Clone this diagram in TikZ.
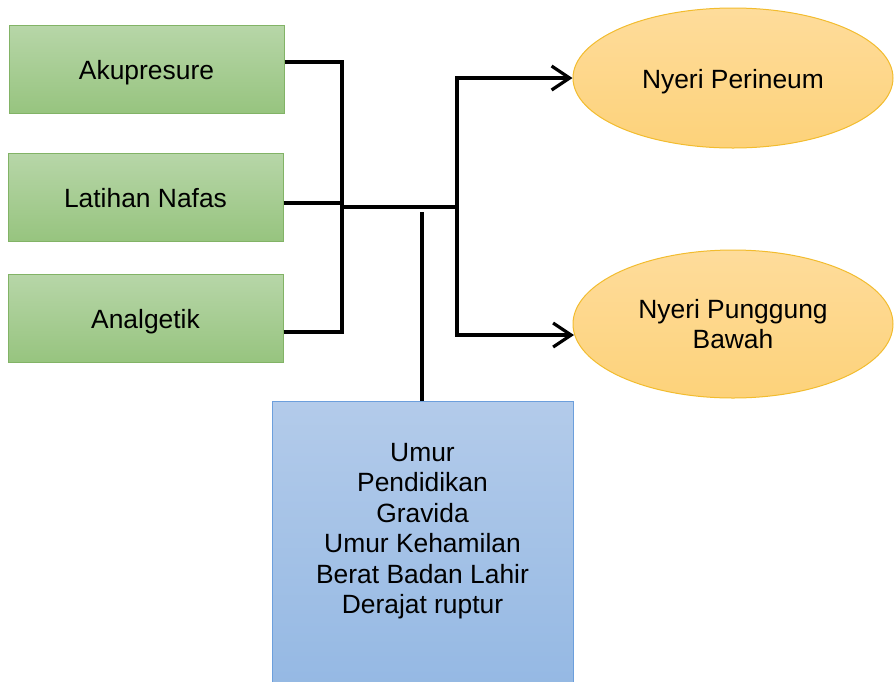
\documentclass[tikz,border=0pt]{standalone}
\usepackage{fontspec}
\setmainfont{Liberation Sans}
\usetikzlibrary{shapes.geometric,arrows.meta,shadings}
\definecolor{gtop}{HTML}{B7D6A8}
\definecolor{gbot}{HTML}{97C47F}
\definecolor{gline}{HTML}{82B366}
\definecolor{otop}{HTML}{FEDC9B}
\definecolor{obot}{HTML}{FDD27A}
\definecolor{oline}{HTML}{F2BC2E}
\definecolor{btop}{HTML}{B3CBEA}
\definecolor{bbot}{HTML}{8FB5E2}
\definecolor{bline}{HTML}{6C9FDC}
\tikzset{
  txtfont/.style={font=\fontsize{26.4}{30.5}\selectfont},
  greenbox/.style={rectangle, draw=gline, line width=1pt, top color=gtop, bottom color=gbot,
    minimum width=275pt, minimum height=88pt, inner sep=0pt, txtfont,
    text height=20.6pt, text depth=0pt},
  oval/.style={ellipse, draw=oline, line width=1pt, top color=otop, bottom color=obot,
    minimum width=320pt, inner sep=0pt, align=center, txtfont},
  bluebox/.style={rectangle, draw=bline, line width=1pt, top color=btop, bottom color=bbot,
    minimum width=301pt, minimum height=340pt, inner sep=0pt},
  wire/.style={line width=3.2pt, black},
  arr/.style={wire, -{Straight Barb[length=18pt,width=24pt,line width=3.2pt]}},
}
\begin{document}
\begin{tikzpicture}[x=1pt,y=1pt]
\useasboundingbox (0,0) rectangle (894,-681);
\node[greenbox] (a1) at (146.5,-69) {Akupresure};
\node[greenbox] (a2) at (145.5,-197) {Latihan Nafas};
\node[greenbox] (a3) at (145.5,-318) {Analgetik};
\node[oval, minimum height=140pt, text height=20pt, text depth=0pt] (e1) at (733,-78) {Nyeri Perineum};
\node[oval, minimum height=148pt] (e2) at (733,-324) {Nyeri Punggung\\Bawah};
\node[bluebox] (f) at (422.5,-571) {};
\node[txtfont, align=center] (ft) at (422.5,-531) {Umur\\Pendidikan\\Gravida\\Umur Kehamilan\\Berat Badan Lahir\\Derajat ruptur};
\coordinate (bt) at (342,-62);
\coordinate (bm) at (342,-203);
\coordinate (bb) at (342,-332);
\coordinate (jn) at (342,-207);
\coordinate (sp) at (457,-207);
\coordinate (st) at (457,-78);
\coordinate (sb) at (457,-335);
\coordinate (ft0) at (422,-212);
\draw[wire] ([yshift=7pt]a1.east) -- (bt);
\draw[wire] ([yshift=-6pt]a2.east) -- (bm);
\draw[wire] ([yshift=-14pt]a3.east) -- (bb);
\draw[wire] ([yshift=1.6pt]bt) -- ([yshift=-1.6pt]bb);
\draw[wire] (jn) -- (sp);
\draw[wire] ([yshift=1.6pt]st) -- ([yshift=-1.6pt]sb);
\draw[arr] (st) -- (e1.west);
\draw[arr] (sb) -- (574,-335);
\draw[wire] (ft0) -- (f.north -| ft0);
\end{tikzpicture}
\end{document}
